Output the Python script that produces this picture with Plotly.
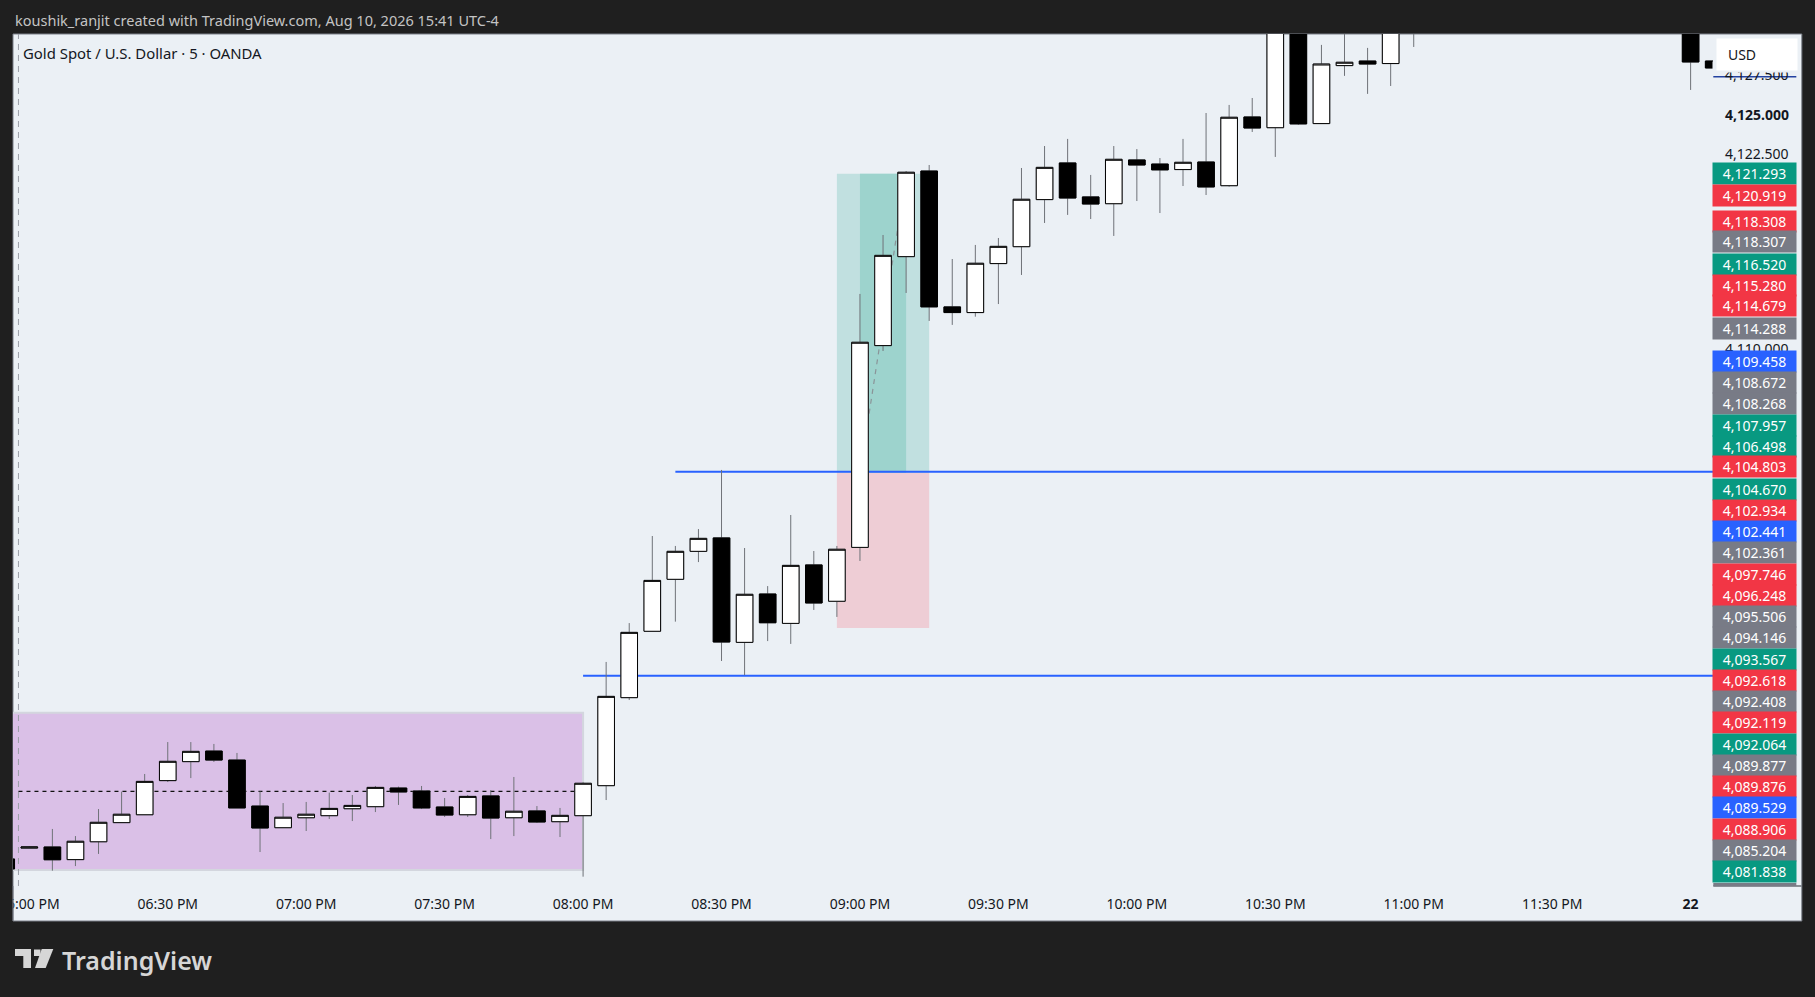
import pandas as pd
import plotly.graph_objects as go

# 5 minute bars, 17:55 to 00:05 next day. None = bar sits completely above the visible range
times = pd.date_range("2026-07-21 17:55", periods=75, freq="5min")
opens = [4077.93,
    4078.62, 4078.69, 4077.89, 4079.02, 4080.23, 4080.73, 4082.89, 4084.09, 4084.76, 4084.19, 4081.28, 4079.91,
    4080.54, 4080.67, 4081.11, 4081.24, 4082.42, 4082.23, 4081.22, 4080.73, 4081.92, 4080.54, 4080.97, 4080.29,
    4080.67, 4082.57, 4088.14, 4092.34, 4095.63, 4097.40, 4098.25, 4091.64, 4094.70, 4092.84, 4096.54, 4094.24,
    4097.65, 4110.42, 4116.05, 4121.47, 4112.87, 4112.51, 4115.61, 4116.68, 4119.66, 4121.98, 4119.83, 4119.40,
    4122.17, 4121.91, 4121.56, 4122.04, 4120.54, 4124.89, 4124.21, 4132.40, 4124.47, 4128.14, 4128.43, 4128.27,
    4131.40, None, None, None, None, None, None, None, None, None, None, None,
    4131.80, 4128.43]
highs = [4077.93,
    4078.75, 4079.83, 4079.38, 4081.09, 4082.19, 4083.31, 4085.33, 4085.33, 4085.21, 4084.64, 4082.21, 4081.47,
    4081.54, 4082.13, 4081.98, 4082.55, 4082.51, 4082.55, 4081.79, 4081.98, 4082.29, 4083.12, 4081.28, 4081.16,
    4082.78, 4090.40, 4092.86, 4098.37, 4097.74, 4098.81, 4102.55, 4097.61, 4095.20, 4099.70, 4097.42, 4097.74,
    4113.69, 4117.42, 4121.47, 4121.85, 4115.90, 4116.79, 4117.23, 4121.66, 4123.05, 4123.50, 4121.22, 4123.05,
    4122.86, 4122.29, 4123.50, 4125.14, 4125.65, 4126.09, 4133.80, 4133.20, 4129.45, 4131.00, 4129.26, 4132.60,
    4133.00, None, None, None, None, None, None, None, None, None, None, None,
    4132.50, 4128.43]
lows = [4077.30,
    4078.62, 4077.19, 4077.48, 4078.25, 4080.23, 4080.73, 4082.80, 4083.05, 4084.07, 4081.16, 4078.37, 4079.91,
    4079.70, 4080.46, 4080.33, 4080.90, 4081.35, 4081.09, 4080.59, 4080.59, 4079.19, 4079.38, 4080.21, 4079.32,
    4076.81, 4081.66, 4087.99, 4092.34, 4092.95, 4096.72, 4090.46, 4089.57, 4091.72, 4091.54, 4093.69, 4093.25,
    4096.79, 4110.08, 4113.75, 4111.98, 4111.73, 4112.25, 4113.05, 4114.89, 4118.18, 4118.69, 4118.43, 4117.36,
    4119.57, 4118.81, 4120.52, 4119.95, 4120.48, 4123.94, 4122.36, 4124.39, 4124.47, 4127.49, 4126.35, 4126.85,
    4129.32, None, None, None, None, None, None, None, None, None, None, None,
    4126.60, 4127.99]
closes = [4077.30,
    4078.69, 4077.88, 4079.05, 4080.25, 4080.76, 4082.84, 4084.11, 4084.74, 4084.19, 4081.16, 4079.89, 4080.57,
    4080.76, 4081.13, 4081.32, 4082.46, 4082.17, 4081.16, 4080.71, 4081.89, 4080.52, 4080.95, 4080.27, 4080.69,
    4082.72, 4088.22, 4092.27, 4095.56, 4097.40, 4098.22, 4091.66, 4094.68, 4092.88, 4096.51, 4094.13, 4097.53,
    4110.63, 4116.13, 4121.39, 4112.87, 4112.51, 4115.63, 4116.70, 4119.68, 4121.70, 4119.76, 4119.38, 4122.21,
    4121.85, 4121.54, 4122.02, 4120.46, 4124.87, 4124.19, 4132.40, 4124.45, 4128.24, 4128.35, 4128.24, 4131.50,
    4132.50, None, None, None, None, None, None, None, None, None, None, None,
    4128.37, 4127.99]
body_tops = [None if o is None else max(o, c) for o, c in zip(opens, closes)]
body_bots = [None if o is None else min(o, c) for o, c in zip(opens, closes)]

tick_times = ["2026-07-21 18:00", "2026-07-21 18:30", "2026-07-21 19:00", "2026-07-21 19:30", "2026-07-21 20:00",
              "2026-07-21 20:30", "2026-07-21 21:00", "2026-07-21 21:30", "2026-07-21 22:00", "2026-07-21 22:30",
              "2026-07-21 23:00", "2026-07-21 23:30", "2026-07-22 00:00"]
tick_labels = ["06:00 PM", "06:30 PM", "07:00 PM", "07:30 PM", "08:00 PM", "08:30 PM", "09:00 PM", "09:30 PM",
               "10:00 PM", "10:30 PM", "11:00 PM", "11:30 PM", "<b>22</b>"]

# price scale badges, top to bottom
badge_texts = ["4,121.293", "4,120.919", "4,118.308", "4,118.307", "4,116.520", "4,115.280", "4,114.679", "4,114.288",
               "4,109.458", "4,108.672", "4,108.268", "4,107.957", "4,106.498", "4,104.803", "4,104.670", "4,102.934",
               "4,102.441", "4,102.361", "4,097.746", "4,096.248", "4,095.506", "4,094.146", "4,093.567", "4,092.618",
               "4,092.408", "4,092.119", "4,092.064", "4,089.877", "4,089.876", "4,089.529", "4,088.906", "4,085.204",
               "4,081.838"]
badge_kinds = ["g", "r", "r", "k", "g", "r", "r", "k",
               "b", "k", "k", "g", "g", "r", "g", "r",
               "b", "k", "r", "r", "k", "k", "g", "r",
               "k", "r", "g", "k", "r", "b", "r", "k",
               "g"]
# the scale pushes overlapping badges apart, so they don't sit at their own price
badge_rows = [173.7, 195, 221, 241.7, 264, 285, 306, 328.3,
              361, 382, 403, 425, 446, 467, 489, 510,
              531, 552, 574, 595, 616, 637, 659, 680,
              701, 722, 744, 765, 786, 807, 829, 850,
              871]
badge_colors = {"g": "#089981", "r": "#f23645", "k": "#787b86", "b": "#2962ff"}

BG = "#ebf0f5"
DARK = "#1f1f1f"
FONT = "Noto Sans"
L, R, T, B = 13, 1712.7, 34, 886
SESSION = "2026-07-21 17:57:39"
ENTRY, TARGET, STOP = 4102.361, 4121.293, 4092.55
LEVEL_HI, LEVEL_LO = 4102.441, 4089.529


def px(x):
    return (x - L) / (R - L)


def py(y):
    return (B - y) / (B - T)


def rect(x0, x1, y0, y1, color, border=None, layer="below"):
    # data coordinates
    return dict(type="rect", xref="x", yref="y", x0=x0, x1=x1, y0=y0, y1=y1, fillcolor=color, layer=layer,
                line=dict(color=border, width=2) if border else dict(width=0))


def line(x0, x1, y0, y1, color, width=2, dash="solid"):
    return dict(type="line", xref="x", yref="y", x0=x0, x1=x1, y0=y0, y1=y1, layer="below",
                line=dict(color=color, width=width, dash=dash))


def screen_rect(x0, x1, y0, y1, color, layer="below", border=None):
    # page pixels
    return dict(type="rect", xref="paper", yref="paper", x0=px(x0), x1=px(x1), y0=py(y1), y1=py(y0), layer=layer,
                fillcolor=color, line=dict(color=border, width=1) if border else dict(width=0))


def screen_poly(points, color):
    path = "M" + " L".join(f"{px(x)},{py(y)}" for x, y in points) + " Z"
    return dict(type="path", xref="paper", yref="paper", path=path, fillcolor=color, line=dict(width=0), layer="above")


shapes = [
    screen_rect(L, 1801.5, T, 921, BG, border="#7b7f88"),
    # session box
    rect("2026-07-21 17:00", "2026-07-21 20:00", 4077.23, 4087.19, "#dac0e7", border="#d3d6de"),
    line(SESSION, "2026-07-21 20:00", 4082.21, 4082.21, "#111111", width=1.2, dash="4px,4px"),
    line(SESSION, SESSION, 4076.22, 4130.14, "#9a9ea8", width=1, dash="6px,5px"),
    # position tool
    rect("2026-07-21 20:55", "2026-07-21 21:15", ENTRY, TARGET, "#c1e0e0"),
    rect("2026-07-21 21:00", "2026-07-21 21:10", ENTRY, TARGET, "#9dd3cd"),
    rect("2026-07-21 20:55", "2026-07-21 21:15", STOP, ENTRY, "#eecdd5"),
    line("2026-07-21 21:00", "2026-07-21 21:10", ENTRY, TARGET, "#8a9498", width=1.2, dash="5px,5px"),
    # horizontal levels
    line("2026-07-21 20:20", "2026-07-22 01:00", LEVEL_HI, LEVEL_HI, "#2962ff"),
    line("2026-07-21 20:00", "2026-07-22 01:00", LEVEL_LO, LEVEL_LO, "#2962ff"),
    # time axis border under the price scale
    screen_rect(1713, 1801, 885.5, 886.5, "#2a2e39", layer="above"),
    # hides the part of the first time label that runs past the panel
    screen_rect(0, 12.5, 886, 921, DARK, layer="above"),
    screen_rect(12.5, 13.5, 886, 921, "#7b7f88", layer="above"),
    # gray badge cut off by the time axis
    screen_rect(1713, 1796, 883, 886, "#787b86", layer="above"),
    # line of the hidden top badge
    screen_rect(1713, 1796, 76, 77.5, "#2341a0", layer="above"),
    # logo
    screen_poly([(15, 949), (31, 949), (31, 968), (23.3, 968), (23.3, 956), (15, 956)], "#d6d6d6"),
    screen_poly([(34, 949.5), (40.5, 949.5), (40.5, 956), (34, 956)], "#d6d6d6"),
    screen_poly([(41.7, 949), (53.3, 949), (45.7, 968), (35, 968)], "#d6d6d6"),
]

annotations = []


def note(x, y, text, size=14, color="#131722", anchor="left", weight=None, **kw):
    annotations.append(dict(xref="paper", yref="paper", x=px(x), y=py(y), text=text, showarrow=False,
                            xanchor=anchor, yanchor="middle",
                            font=dict(family=FONT, size=size, color=color, weight=weight), **kw))


note(13, 20, "koushik_ranjit created with TradingView.com, Aug 10, 2026 15:41 UTC-4", size=14.5, color="#c4c4c4")
note(21, 53, "Gold Spot / U.S. Dollar · 5 · OANDA", size=14.9, color="#131722")
note(60, 960, "TradingView", size=25, color="#d6d6d6", weight=600)

note(1723, 75, "4,127.500")
note(1723, 349, "4,110.000")
note(1723, 115, "<b>4,125.000</b>")
note(1723, 153.7, "4,122.500")
for text, kind, row in zip(badge_texts, badge_kinds, badge_rows):
    note(1754.3, row, text, color="white", anchor="center", width=83, height=21, bgcolor=badge_colors[kind],
         align="center", borderpad=0)
# top of the 4,127.500 label is cut off above the USD button
note(1754.3, 67, "&nbsp;", anchor="center", width=84, height=10, bgcolor=BG, borderpad=0)
note(1757, 54.5, "&nbsp;&nbsp;&nbsp;USD", anchor="center", width=80, height=31, bgcolor="white", align="left", borderpad=0)

fig = go.Figure()
# full candles first for the gray wicks, bodies again on top with the black outline
fig.add_trace(go.Candlestick(
    x=times, open=opens, high=highs, low=lows, close=closes,
    increasing=dict(line=dict(color="#6f7278", width=1), fillcolor="white"),
    decreasing=dict(line=dict(color="#6f7278", width=1), fillcolor="black"),
    whiskerwidth=0, showlegend=False, hoverinfo="skip",
))
fig.add_trace(go.Candlestick(
    x=times, open=opens, high=body_tops, low=body_bots, close=closes,
    increasing=dict(line=dict(color="black", width=1), fillcolor="white"),
    decreasing=dict(line=dict(color="black", width=1), fillcolor="black"),
    whiskerwidth=0, showlegend=False, hoverinfo="skip",
))

fig.update_layout(
    width=1815, height=997, autosize=False,
    margin=dict(l=L, r=1815 - R, t=T, b=997 - B, pad=0, autoexpand=False),
    paper_bgcolor=DARK, plot_bgcolor=BG,
    boxgap=0.28, boxgroupgap=0,
    shapes=shapes, annotations=annotations,
    showlegend=False,
    xaxis=dict(
        type="date", range=["2026-07-21 17:56:28", "2026-07-22 00:04:51"],
        tickmode="array", tickvals=tick_times, ticktext=tick_labels,
        tickfont=dict(family=FONT, size=14, color="#131722"), ticks="", ticklabelstandoff=8,
        ticklabeloverflow="allow",
        showgrid=False, zeroline=False, showline=False, rangeslider=dict(visible=False),
    ),
    yaxis=dict(range=[4076.22, 4130.14], showticklabels=False, showgrid=False, zeroline=False, showline=False, ticks=""),
)

fig.write_html("out.html", config=dict(displayModeBar=False),
               post_script="document.body.style.margin='0';document.body.style.background='#1f1f1f';")
